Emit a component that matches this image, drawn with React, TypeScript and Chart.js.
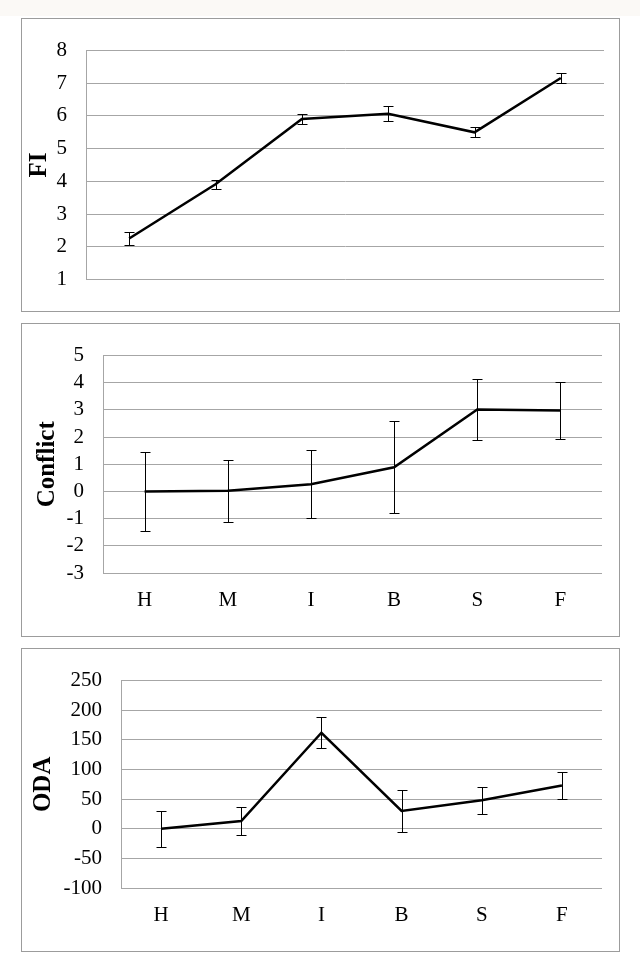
import { useEffect, useRef } from 'react';
import { Chart, registerables } from 'chart.js';

Chart.register(...registerables);

const groups = ['H', 'M', 'I', 'B', 'S', 'F'];

const fiMean = [2.25, 3.91, 5.91, 6.07, 5.5, 7.16];
const fiErr = [0.19, 0.14, 0.15, 0.22, 0.15, 0.14];

const conflictMean = [0.0, 0.03, 0.27, 0.89, 3.02, 2.98];
const conflictErr = [1.44, 1.14, 1.26, 1.7, 1.13, 1.06];

const odaMean = [0, 13, 162, 30, 48, 73];
const odaErr = [30, 24, 26, 35, 23, 22];

const serif = '"Liberation Serif", "Times New Roman", serif';
const gridGrey = '#a6a6a6';

// draws the +/- error bars with little caps on each point
const errorBars = {
  id: 'errorBars',
  afterDatasetsDraw(chart: Chart, _args: unknown, opts: { err?: number[] }) {
    const errs = opts.err || [];
    const meta = chart.getDatasetMeta(0);
    const yScale = chart.scales.y;
    const values = chart.data.datasets[0].data as number[];
    const ctx = chart.ctx;
    ctx.save();
    ctx.strokeStyle = '#000';
    ctx.lineWidth = 1;
    meta.data.forEach((pt, i) => {
      const v = values[i];
      const e = errs[i] ?? 0;
      const x = Math.round(pt.x) + 0.5;
      const top = Math.round(yScale.getPixelForValue(v + e)) + 0.5;
      const bot = Math.round(yScale.getPixelForValue(v - e)) + 0.5;
      ctx.beginPath();
      ctx.moveTo(x, top);
      ctx.lineTo(x, bot);
      ctx.moveTo(x - 5, top);
      ctx.lineTo(x + 5, top);
      ctx.moveTo(x - 5, bot);
      ctx.lineTo(x + 5, bot);
      ctx.stroke();
    });
    ctx.restore();
  },
};

interface PanelProps {
  title: string;
  mean: number[];
  err: number[];
  min: number;
  max: number;
  step: number;
  showX: boolean;
  top: number;
  height: number;
  axisWidth: number;
  titlePad: number;
  padTop: number;
  padRight: number;
  xHeight: number;
}

function Panel(p: PanelProps) {
  const canvasRef = useRef<HTMLCanvasElement | null>(null);
  const chartRef = useRef<Chart | null>(null);
  const innerW = 597;
  const innerH = p.height - 2;

  useEffect(() => {
    if (!canvasRef.current) return;
    if (chartRef.current) chartRef.current.destroy();

    chartRef.current = new Chart(canvasRef.current, {
      type: 'line',
      data: {
        labels: groups,
        datasets: [
          {
            data: p.mean,
            borderColor: '#000',
            borderWidth: 2.5,
            pointRadius: 0,
            tension: 0,
            fill: false,
          },
        ],
      },
      options: {
        responsive: false,
        animation: false,
        devicePixelRatio: 1,
        layout: {
          autoPadding: false,
          padding: { top: p.padTop, right: p.padRight, left: 0, bottom: 0 },
        },
        plugins: {
          legend: { display: false },
          tooltip: { enabled: false },
          errorBars: { err: p.err },
        } as any,
        scales: {
          x: {
            offset: true,
            grid: { display: false },
            border: { display: false },
            ticks: {
              display: p.showX,
              autoSkip: false,
              maxRotation: 0,
              color: '#000',
              padding: 7,
              font: { family: serif, size: 21 },
            },
            afterFit: (scale: any) => {
              scale.height = p.xHeight;
            },
          },
          y: {
            min: p.min,
            max: p.max,
            grid: { color: gridGrey, lineWidth: 1, drawTicks: false },
            border: { display: true, color: gridGrey, width: 1 },
            ticks: {
              stepSize: p.step,
              autoSkip: false,
              color: '#000',
              padding: 19,
              font: { family: serif, size: 21 },
            },
            title: {
              display: true,
              text: p.title,
              color: '#000',
              padding: { top: p.titlePad, bottom: 0 },
              font: { family: serif, size: 25, weight: 'bold' },
            },
            afterFit: (scale: any) => {
              scale.width = p.axisWidth;
            },
          },
        },
      },
      plugins: [errorBars as any],
    });

    return () => {
      if (chartRef.current) {
        chartRef.current.destroy();
        chartRef.current = null;
      }
    };
  }, []);

  return (
    <div
      style={{
        position: 'absolute',
        left: 21,
        top: p.top,
        width: 599,
        height: p.height,
        boxSizing: 'border-box',
        border: '1px solid #9c9c9c',
        background: '#fff',
      }}
    >
      <canvas
        ref={canvasRef}
        width={innerW}
        height={innerH}
        style={{ display: 'block', width: innerW, height: innerH }}
      />
    </div>
  );
}

export default function App() {
  return (
    <div
      style={{
        position: 'absolute',
        left: 0,
        top: 0,
        width: 640,
        height: 970,
        background: '#fff',
        overflow: 'hidden',
      }}
    >
      <div style={{ position: 'absolute', left: 0, top: 0, width: 640, height: 16, background: '#fbf9f6' }} />
      <Panel
        title="FI"
        mean={fiMean}
        err={fiErr}
        min={1}
        max={8}
        step={1}
        showX={false}
        top={18}
        height={294}
        axisWidth={64}
        titlePad={3}
        padTop={12}
        padRight={15}
        xHeight={18}
      />
      <Panel
        title="Conflict"
        mean={conflictMean}
        err={conflictErr}
        min={-3}
        max={5}
        step={1}
        showX={true}
        top={323}
        height={314}
        axisWidth={81}
        titlePad={11}
        padTop={20}
        padRight={17}
        xHeight={63}
      />
      <Panel
        title="ODA"
        mean={odaMean}
        err={odaErr}
        min={-100}
        max={250}
        step={50}
        showX={true}
        top={648}
        height={304}
        axisWidth={99}
        titlePad={7}
        padTop={20}
        padRight={17}
        xHeight={63}
      />
    </div>
  );
}
